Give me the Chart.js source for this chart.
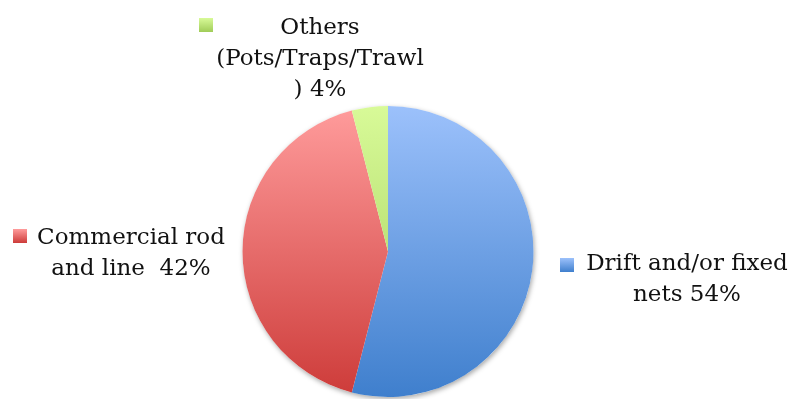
<!DOCTYPE html>
<html>
<head>
<meta charset="utf-8">
<script src="https://cdn.jsdelivr.net/npm/chart.js@4"></script>
<style>
  html, body { margin: 0; padding: 0; background: #fff; }
  #wrap { width: 792px; height: 399px; position: relative; }
</style>
</head>
<body>
<div id="wrap"><canvas id="pieChart" width="792" height="399"></canvas></div>
<script>
// --- Data ---
const gearLabels = ['Drift and/or fixed nets', 'Commercial rod and line', 'Others (Pots/Traps/Trawl)'];
const gearShares = [54, 42, 4];
// label text as printed next to each swatch, one entry per line
const labelLines = [
    ['Drift and/or fixed', 'nets 54%'],
    ['Commercial rod', 'and line  42%'],
    ['Others', '(Pots/Traps/Trawl', ') 4%']
];
// top / bottom colours of each slice gradient
const topColors = ['#9cc1fb', '#ff9c9c', '#d8fa98'];
const bottomColors = ['#3f7fcd', '#cd3b39', '#a0cc58'];

// where each label block sits: swatch corner + text centre
const labelBoxes = [
    { sx: 560, sy: 258, tx: 687, ty: 264 },
    { sx: 13, sy: 229, tx: 131, ty: 238 },
    { sx: 199, sy: 18, tx: 320, ty: 28 }
];

function sliceGradient(ctx, area, i) {
    const g = ctx.createLinearGradient(0, area.top, 0, area.bottom);
    g.addColorStop(0, topColors[i]);
    g.addColorStop(1, bottomColors[i]);
    return g;
}

// soft shadow under the whole pie
const pieShadow = {
    id: 'pieShadow',
    beforeDatasetsDraw(chart) {
        const arc = chart.getDatasetMeta(0).data[0];
        if (!arc) return;
        const c = chart.ctx;
        c.save();
        c.shadowColor = 'rgba(0,0,0,0.35)';
        c.shadowBlur = 5;
        c.shadowOffsetX = 1;
        c.shadowOffsetY = 2;
        c.fillStyle = '#fff';
        c.beginPath();
        c.arc(arc.x, arc.y, arc.outerRadius, 0, Math.PI * 2);
        c.fill();
        c.restore();
    }
};

// swatch + multi-line label for each slice
const sliceLabels = {
    id: 'sliceLabels',
    afterDraw(chart) {
        const c = chart.ctx;
        c.save();
        c.font = '23px "DejaVu Serif"';
        c.fillStyle = '#111';
        c.textAlign = 'center';
        c.textBaseline = 'middle';
        labelBoxes.forEach(function (b, i) {
            const g = c.createLinearGradient(0, b.sy, 0, b.sy + 14);
            g.addColorStop(0, topColors[i]);
            g.addColorStop(1, bottomColors[i]);
            c.fillStyle = g;
            c.fillRect(b.sx, b.sy, 14, 14);
            c.fillStyle = '#111';
            labelLines[i].forEach(function (line, k) {
                c.fillText(line, b.tx, b.ty + k * 31);
            });
        });
        c.restore();
    }
};

new Chart(document.getElementById('pieChart').getContext('2d'), {
    type: 'pie',
    data: {
        labels: gearLabels,
        datasets: [{
            data: gearShares,
            backgroundColor: function (ctx) {
                const area = ctx.chart.chartArea;
                if (!area) return topColors[ctx.dataIndex];
                return sliceGradient(ctx.chart.ctx, area, ctx.dataIndex);
            },
            borderWidth: 0
        }]
    },
    options: {
        responsive: false,
        animation: false,
        layout: { padding: { top: 106, bottom: 2, left: 242, right: 258 } },
        plugins: {
            legend: { display: false },
            tooltip: { enabled: false }
        }
    },
    plugins: [pieShadow, sliceLabels]
});
</script>
</body>
</html>
